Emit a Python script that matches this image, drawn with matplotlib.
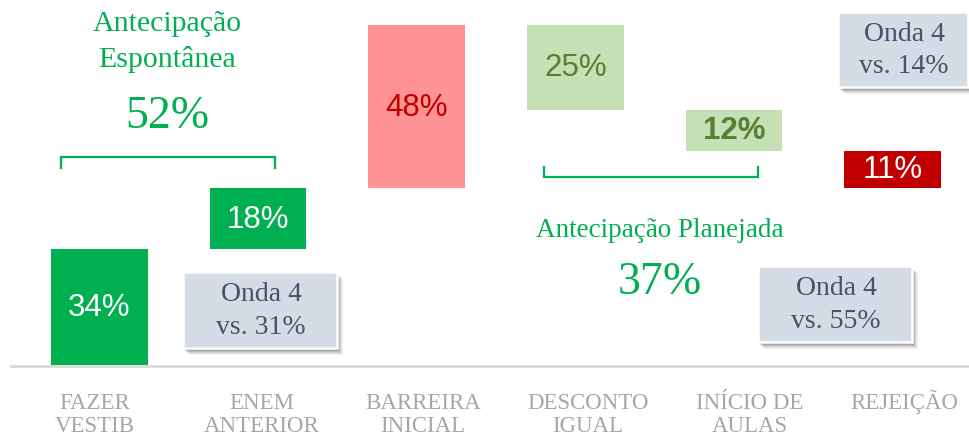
import matplotlib
matplotlib.use("Agg")
import matplotlib.pyplot as plt
from matplotlib.patches import Rectangle
from matplotlib.lines import Line2D
from matplotlib.transforms import blended_transform_factory

# ---- data ----
categories = ["FAZER\nVESTIB", "ENEM\nANTERIOR", "BARREIRA\nINICIAL",
              "DESCONTO\nIGUAL", "INÍCIO DE\nAULAS", "REJEIÇÃO"]
values = [34, 18, 48, 25, 12, 11]
directions = [1, 1, 1, -1, -1, -1]
value_labels = ["34%", "18%", "48%", "25%", "12%", "11%"]
group_titles = ["Antecipação\nEspontânea", "Antecipação Planejada"]
group_totals = ["52%", "37%"]
wave_notes = ["Onda 4\nvs. 31%", "Onda 4\nvs. 14%", "Onda 4\nvs. 55%"]

# ---- styles ----
bar_colors = ["#00B050", "#00B050", "#FF9393", "#C5E0B4", "#C5E0B4", "#C00000"]
text_colors = ["white", "white", "#C00000", "#548235", "#548235", "white"]
text_weights = ["normal"] * 4 + ["bold", "normal"]
GREEN = "#00B050"
SERIF = "Liberation Serif"
SANS = "Liberation Sans"

W, H = 970, 439
fig = plt.figure(figsize=(W / 100, H / 100), dpi=100)
ax = fig.add_axes([20 / W, 1 - 366 / H, 952 / W, 340 / H])
ax.set_xlim(-0.5, 5.5)
ax.set_ylim(0, 100)
ax.axis("off")

# waterfall bars
total = 0
for i, (v, d) in enumerate(zip(values, directions)):
    if d > 0:
        bottom = total
        total += v
    else:
        total -= v
        bottom = total
    ax.bar(i, v, bottom=bottom, width=0.611, color=bar_colors[i], linewidth=0)
    ax.text(i, bottom + v / 2, value_labels[i], ha="center", va="center",
            fontsize=22.5, family=SANS, color=text_colors[i],
            fontweight=text_weights[i])

# helper: pixel coords -> figure coords
def P(x, y):
    return x / W, 1 - y / H

# baseline
fig.add_artist(Line2D([11 / W, 1.0], [1 - 367 / H] * 2, color="#D9D9D9", lw=2.0))

# category labels (each line placed on its own baseline)
blend = blended_transform_factory(ax.transData, fig.transFigure)
label_offsets = [-0.03, 0.025, 0.04, 0.08, 0.1, 0.075]
line_baselines = [409, 432]
for i, c in enumerate(categories):
    for j, line in enumerate(c.split("\n")):
        ax.text(i + label_offsets[i], 1 - line_baselines[j] / H, line,
                transform=blend, ha="center", va="baseline", fontsize=16.5,
                family=SERIF, color="#A6A6A6", clip_on=False)

# group annotations
fig.text(*P(167, 42), group_titles[0], ha="center", va="center", fontsize=21.5,
         family=SERIF, color=GREEN, linespacing=1.4)
fig.text(*P(167, 117), group_totals[0], ha="center", va="center", fontsize=33,
         family=SERIF, color=GREEN)
fig.text(*P(660, 231), group_titles[1], ha="center", va="center", fontsize=19.5,
         family=SERIF, color=GREEN)
fig.text(*P(660, 283), group_totals[1], ha="center", va="center", fontsize=33,
         family=SERIF, color=GREEN)

# brackets
def bracket(x0, x1, yh, ytip):
    xs = [x0, x0, x1, x1]
    ys = [ytip, yh, yh, ytip]
    fig.add_artist(Line2D([x / W for x in xs], [1 - y / H for y in ys],
                          color=GREEN, lw=1.6, solid_joinstyle="miter"))

bracket(61, 275, 158, 169)
bracket(544, 758, 178, 168)

# wave note boxes (x0, y0, x1, y1 in pixels)
boxes = [(183, 273, 337, 349), (838, 13, 968, 88), (758, 267, 912, 343)]
for (x0, y0, x1, y1), note in zip(boxes, wave_notes):
    # soft shadow
    for k, a in [(7, 0.05), (6, 0.06), (5, 0.08), (4, 0.1), (3, 0.12)]:
        fx, fy = P(x0 + k - 1, y1 + k)
        fig.add_artist(Rectangle((fx, fy), (x1 - x0) / W, (y1 - y0) / H,
                                 transform=fig.transFigure, facecolor="black",
                                 alpha=a, linewidth=0))
    fx, fy = P(x0, y1)
    fig.add_artist(Rectangle((fx, fy), (x1 - x0) / W, (y1 - y0) / H,
                             transform=fig.transFigure, facecolor="#D6DCE5",
                             edgecolor="white", linewidth=1.8))
    fig.text(*P((x0 + x1) / 2 + 1, (y0 + y1) / 2), note, ha="center", va="center",
             fontsize=20, family=SERIF, color="#44546A", linespacing=1.4)

fig.savefig("out.png", dpi=100)
